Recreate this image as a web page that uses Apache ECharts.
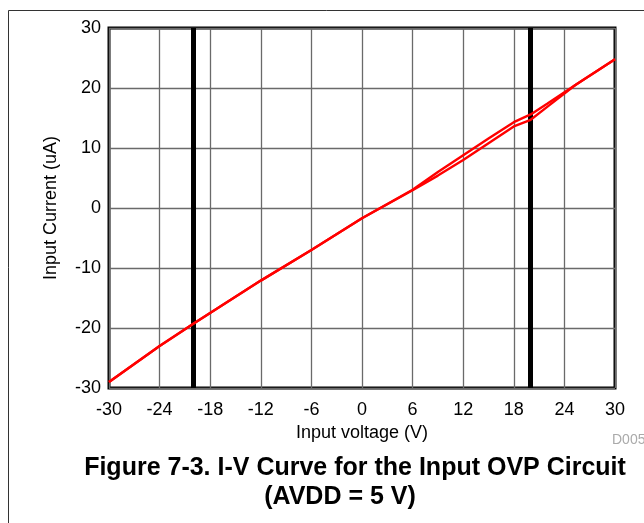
<!DOCTYPE html>
<html>
<head>
<meta charset="utf-8">
<script src="https://cdn.jsdelivr.net/npm/echarts@6/dist/echarts.min.js"></script>
<style>
  html, body { margin: 0; padding: 0; background: #fff; }
  #chart { width: 644px; height: 523px; }
</style>
</head>
<body>
<div id="chart"></div>
<script>
// Axis ticks
const voltageTicks = [-30, -24, -18, -12, -6, 0, 6, 12, 18, 24, 30];
const currentTicks = [-30, -20, -10, 0, 10, 20, 30];

// OVP clamp thresholds (V)
const ovpLimits = [-20, 20];

// Sweep up: -30 V -> +30 V, [V, uA]
const sweepUp = [
  [-30, -29.0], [-27, -26.0], [-24, -23.0], [-20, -19.3], [-12, -12.1],
  [-6, -7.0], [0, -1.7], [6, 2.95], [9, 5.4], [12, 8.0],
  [15, 10.8], [18, 13.6], [20, 14.7], [22, 16.9], [25.3, 20.5], [30, 24.8]
];

// Sweep down: +30 V -> -30 V, [V, uA]
const sweepDown = [
  [30, 24.8], [25.3, 20.5], [22, 17.4], [20, 15.6], [18, 14.3],
  [15, 11.6], [12, 8.8], [9, 6.0], [6, 3.05], [0, -1.7],
  [-6, -7.0], [-12, -12.1], [-20, -19.3], [-24, -23.0], [-27, -26.0], [-30, -29.0]
];

const FONT = '"Liberation Sans", Arial, sans-serif';
const chart = echarts.init(document.getElementById('chart'), null, { renderer: 'canvas' });

const redLine = {
  type: 'line',
  showSymbol: false,
  smooth: false,
  lineStyle: { color: '#ff0000', width: 2.4 },
  z: 5,
  silent: true
};

chart.setOption({
  animation: false,
  backgroundColor: '#ffffff',
  grid: {
    left: 109, right: 29, top: 28, bottom: 135,
    show: true, borderColor: '#000', borderWidth: 3, backgroundColor: 'transparent'
  },
  xAxis: {
    type: 'value',
    min: voltageTicks[0],
    max: voltageTicks[voltageTicks.length - 1],
    interval: voltageTicks[1] - voltageTicks[0],
    name: 'Input voltage (V)',
    nameLocation: 'middle',
    nameGap: 33,
    nameTextStyle: { fontFamily: FONT, fontSize: 18, color: '#000' },
    axisLine: { show: false },
    axisTick: { show: false },
    axisLabel: { fontFamily: FONT, fontSize: 18, color: '#000', margin: 13 },
    splitLine: { show: true, lineStyle: { color: '#6a6a6a', width: 1.3 } }
  },
  yAxis: {
    type: 'value',
    min: currentTicks[0],
    max: currentTicks[currentTicks.length - 1],
    interval: currentTicks[1] - currentTicks[0],
    name: 'Input Current (uA)',
    nameLocation: 'middle',
    nameGap: 49,
    nameRotate: 90,
    nameTextStyle: { fontFamily: FONT, fontSize: 18, color: '#000' },
    axisLine: { show: false },
    axisTick: { show: false },
    axisLabel: { fontFamily: FONT, fontSize: 18, color: '#000', margin: 8 },
    splitLine: { show: true, lineStyle: { color: '#6a6a6a', width: 1.3 } }
  },
  series: [
    Object.assign({}, redLine, {
      name: 'Sweep up',
      data: sweepUp,
      markLine: {
        silent: true,
        symbol: ['none', 'none'],
        label: { show: false },
        lineStyle: { color: '#000', width: 5, type: 'solid' },
        data: ovpLimits.map(v => ({ xAxis: v }))
      }
    }),
    Object.assign({}, redLine, { name: 'Sweep down', data: sweepDown })
  ],
  graphic: [
    {
      type: 'rect',
      shape: { x: 8.5, y: 10.5, width: 700, height: 600 },
      style: { fill: 'none', stroke: '#333', lineWidth: 1 },
      silent: true
    },
    {
      type: 'text',
      x: 612, y: 440,
      style: { text: 'D005', fontFamily: FONT, fontSize: 14, fill: '#aaa', align: 'left', verticalAlign: 'middle' }
    },
    {
      type: 'text',
      x: 355, y: 468,
      style: { text: 'Figure 7-3. I-V Curve for the Input OVP Circuit', fontFamily: FONT, fontSize: 25, fontWeight: 'bold', fill: '#000', align: 'center', verticalAlign: 'middle' }
    },
    {
      type: 'text',
      x: 340, y: 497,
      style: { text: '(AVDD = 5 V)', fontFamily: FONT, fontSize: 25, fontWeight: 'bold', fill: '#000', align: 'center', verticalAlign: 'middle' }
    }
  ]
});
</script>
</body>
</html>
